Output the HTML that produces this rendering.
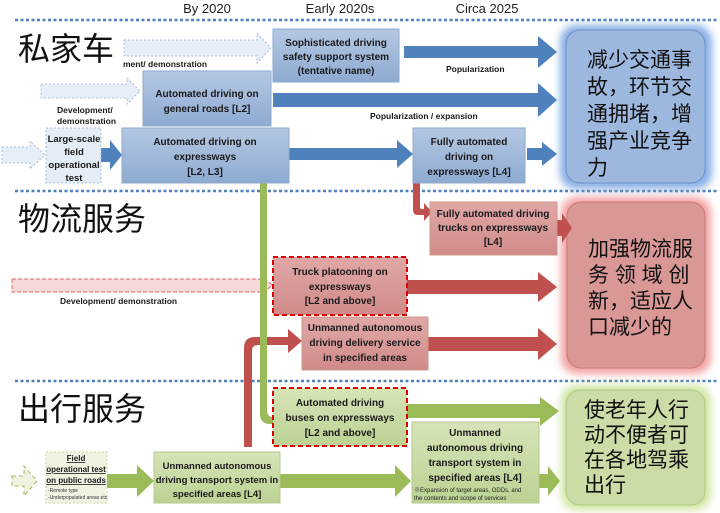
<!DOCTYPE html>
<html><head><meta charset="utf-8"><style>
body{margin:0;background:#fff}
svg{display:block}
.t{font-family:"Liberation Sans",sans-serif;font-weight:bold;font-size:10px;fill:#1a1a1a;text-anchor:middle}
.s{font-family:"Liberation Sans",sans-serif;font-weight:bold;font-size:8.5px;fill:#1a1a1a}
.h{font-family:"Liberation Sans",sans-serif;font-size:13px;fill:#222;text-anchor:middle}
.cj{font-family:"Liberation Sans","Noto Sans CJK SC",sans-serif;font-size:32px;fill:#111}
.cr{font-family:"Liberation Sans","Noto Sans CJK SC",sans-serif;font-size:21px;fill:#111}
</style></head><body>
<svg width="720" height="513" viewBox="0 0 720 513" xmlns="http://www.w3.org/2000/svg">
<defs>
<linearGradient id="gb" x1="0" y1="0" x2="0" y2="1"><stop offset="0" stop-color="#b4c8e3"/><stop offset="1" stop-color="#8eaad2"/></linearGradient>
<linearGradient id="gr" x1="0" y1="0" x2="0" y2="1"><stop offset="0" stop-color="#e0a8a7"/><stop offset="1" stop-color="#d08b8a"/></linearGradient>
<linearGradient id="gg" x1="0" y1="0" x2="0" y2="1"><stop offset="0" stop-color="#d6e4b8"/><stop offset="1" stop-color="#bcd293"/></linearGradient>
<filter id="glow" x="-20%" y="-20%" width="140%" height="140%"><feGaussianBlur stdDeviation="4"/></filter>
</defs>
<text class="h" x="207" y="13">By 2020</text>
<text class="h" x="340" y="13">Early 2020s</text>
<text class="h" x="487" y="13">Circa 2025</text>
<g stroke="#4f81bd" stroke-width="2.5" stroke-dasharray="3 2.5">
<line x1="15" y1="20" x2="718" y2="20"/><line x1="15" y1="191" x2="718" y2="191"/><line x1="15" y1="381" x2="718" y2="381"/>
</g>
<text class="cj" x="18" y="60">私家车</text>
<text class="cj" x="18" y="230">物流服务</text>
<text class="cj" x="18" y="420">出行服务</text>

<rect x="560" y="25" width="152" height="164" rx="16" fill="#6b9be0" filter="url(#glow)" opacity="0.8"/>
<rect x="566" y="30" width="139" height="153" rx="14" fill="#9db8de" stroke="#6d92c6"/>
<text class="cr"><tspan x="587" y="67">减少交通事</tspan><tspan x="587" y="94">故，环节交</tspan><tspan x="587" y="121">通拥堵，增</tspan><tspan x="587" y="148">强产业竞争</tspan><tspan x="587" y="175">力</tspan></text>

<rect x="561" y="197" width="150" height="177" rx="16" fill="#f08a8a" filter="url(#glow)" opacity="0.8"/>
<rect x="567" y="202" width="138" height="166" rx="14" fill="#d99796" stroke="#c97a79"/>
<text class="cr"><tspan x="588" y="256">加强物流服</tspan><tspan x="588" y="282">务 领 域 创</tspan><tspan x="588" y="308">新，适应人</tspan><tspan x="588" y="334">口减少的</tspan></text>

<rect x="561" y="385" width="150" height="125" rx="16" fill="#c5e08a" filter="url(#glow)" opacity="0.8"/>
<rect x="566" y="390" width="139" height="115" rx="14" fill="#cbdca6" stroke="#b0c884"/>
<text class="cr"><tspan x="584" y="417">使老年人行</tspan><tspan x="584" y="442">动不便者可</tspan><tspan x="584" y="467">在各地驾乘</tspan><tspan x="584" y="492">出行</tspan></text>

<g fill="#e6eef8" stroke="#a8bfdd" stroke-dasharray="2 2" stroke-width="1">
<path d="M124 40 H257 V33 L271 48 L257 63 V56 H124 Z"/>
<path d="M41 84 H127 V78 L140 91 L127 104 V98 H41 Z"/>
<path d="M2 147 H30 V141 L45 155 L30 169 V163 H2 Z"/>
</g>
<text class="s" x="123" y="67">ment/ demonstration</text>
<text class="s" x="57" y="113">Development/</text>
<text class="s" x="57" y="124">demonstration</text>
<path d="M12 279 H265 L272 285 L265 292 H12 Z" fill="#f6d9d9" stroke="#d66" stroke-dasharray="4 2"/>
<text class="s" x="60" y="304">Development/ demonstration</text>
<path d="M12 476 H24 V466 L37 481 L24 496 V486 H12 Z" fill="#eef4e0" stroke="#9bbb59" stroke-dasharray="4 3"/>

<g fill="#4f81bd">
<path d="M404 46 H538 V36 L557 52 L538 68 V58 H404 Z"/>
<path d="M273 93 H538 V83 L557 100 L538 117 V107 H273 Z"/>
<path d="M289 148 H397 V140 L413 154 L397 168 V160 H289 Z"/>
<path d="M527 148 H542 V142 L557 154 L542 166 V160 H527 Z"/>
<path d="M101 148 H110 V140 L122 155 L110 170 V162 H101 Z"/>
</g>
<text class="s" x="446" y="72">Popularization</text>
<text class="s" x="370" y="119">Popularization / expansion</text>

<g fill="#c0504d">
<path d="M413 183 H420 V207 Q420 209 422 209 H424 V203 L432 212 L424 221 V215 H418 Q413 215 413 210 Z"/>
<path d="M557 220 H562 V213 L572 228 L562 243 V236 H557 Z"/>
<path d="M407 280 H538 V272 L557 287 L538 302 V294 H407 Z"/>
<path d="M428 337 H538 V328 L557 344 L538 360 V351 H428 Z"/>
<path d="M244 447 V348 Q244 337 255 337 H288 V329 L302 341 L288 353 V345 H258 Q252 345 252 351 V447 Z"/>
</g>
<g fill="#9bbb59">
<path d="M260 183 H267 V410 Q267 417 273 417 H276 V424 H270 Q260 424 260 414 Z"/>
<path d="M407 404 H540 V397 L559 411 L540 426 V418 H407 Z"/>
<path d="M280 474 H395 V465 L411 481 L395 497 V488 H280 Z"/>
<path d="M539 474 H548 V466 L560 481 L548 496 V488 H539 Z"/>
<path d="M107 474 H137 V465 L154 481 L137 497 V488 H107 Z"/>
</g>

<g stroke="#8faad0" stroke-width="1">
<rect x="273" y="29" width="126" height="53" fill="url(#gb)"/>
<rect x="143" y="71" width="128" height="55" fill="url(#gb)"/>
<rect x="122" y="128" width="167" height="55" fill="url(#gb)"/>
<rect x="413" y="128" width="112" height="55" fill="url(#gb)"/>
</g>
<rect x="46" y="128" width="55" height="55" fill="#e4ecf6" stroke="#a8bfdd" stroke-dasharray="2 2"/>
<text class="t"><tspan x="336" y="46">Sophisticated driving</tspan><tspan x="336" y="60">safety support system</tspan><tspan x="336" y="74">(tentative name)</tspan></text>
<text class="t"><tspan x="207" y="97">Automated driving on</tspan><tspan x="207" y="112">general roads [L2]</tspan></text>
<text class="t"><tspan x="205" y="145">Automated driving on</tspan><tspan x="205" y="160">expressways</tspan><tspan x="205" y="175">[L2, L3]</tspan></text>
<text class="t"><tspan x="469" y="145">Fully automated</tspan><tspan x="469" y="160">driving on</tspan><tspan x="469" y="175">expressways [L4]</tspan></text>
<text class="t" style="font-size:9.5px"><tspan x="74" y="142">Large-scale</tspan><tspan x="74" y="155">field</tspan><tspan x="74" y="168">operational</tspan><tspan x="74" y="181">test</tspan></text>

<rect x="430" y="202" width="127" height="53" fill="url(#gr)" stroke="#c98"/>
<text class="t"><tspan x="493" y="217">Fully automated driving</tspan><tspan x="493" y="231">trucks on expressways</tspan><tspan x="493" y="245">[L4]</tspan></text>
<rect x="273" y="257" width="134" height="58" fill="url(#gr)" stroke="#d00" stroke-width="2" stroke-dasharray="5 3"/>
<text class="t"><tspan x="340" y="275">Truck platooning on</tspan><tspan x="340" y="290">expressways</tspan><tspan x="340" y="304">[L2 and above]</tspan></text>
<rect x="302" y="317" width="126" height="53" fill="url(#gr)" stroke="#c98"/>
<text class="t"><tspan x="365" y="331">Unmanned autonomous</tspan><tspan x="365" y="346">driving delivery service</tspan><tspan x="365" y="361">in specified areas</tspan></text>

<rect x="273" y="388" width="134" height="58" fill="url(#gg)" stroke="#d00" stroke-width="2" stroke-dasharray="5 3"/>
<text class="t"><tspan x="340" y="406">Automated driving</tspan><tspan x="340" y="421">buses on expressways</tspan><tspan x="340" y="436">[L2 and above]</tspan></text>
<rect x="154" y="452" width="126" height="51" fill="url(#gg)" stroke="#b5c98e"/>
<text class="t" style="font-size:9.5px"><tspan x="217" y="469">Unmanned autonomous</tspan><tspan x="217" y="483">driving transport system in</tspan><tspan x="217" y="497">specified areas [L4]</tspan></text>
<rect x="412" y="422" width="127" height="81" fill="url(#gg)" stroke="#b5c98e"/>
<text class="t"><tspan x="475" y="436">Unmanned</tspan><tspan x="475" y="451">autonomous driving</tspan><tspan x="475" y="466">transport system in</tspan><tspan x="475" y="481">specified areas [L4]</tspan></text>
<text style="font-family:'Liberation Sans','Noto Sans CJK SC',sans-serif;font-size:6px;fill:#222"><tspan x="414" y="492">※Expansion of target areas, ODDs, and</tspan><tspan x="414" y="500">the contents and scope of services</tspan></text>
<rect x="46" y="452" width="61" height="51" fill="#eef3e2" stroke="#c5d6a5" stroke-dasharray="2 2"/>
<text class="t" style="font-size:8px;text-decoration:underline"><tspan x="76" y="461">Field</tspan><tspan x="76" y="472">operational test</tspan><tspan x="76" y="483">on public roads</tspan></text>
<text style="font-family:'Liberation Sans',sans-serif;font-size:5px;fill:#333"><tspan x="48" y="492">-Remote type</tspan><tspan x="48" y="499">-Underpopulated areas etc.</tspan></text>
</svg>
</body></html>
